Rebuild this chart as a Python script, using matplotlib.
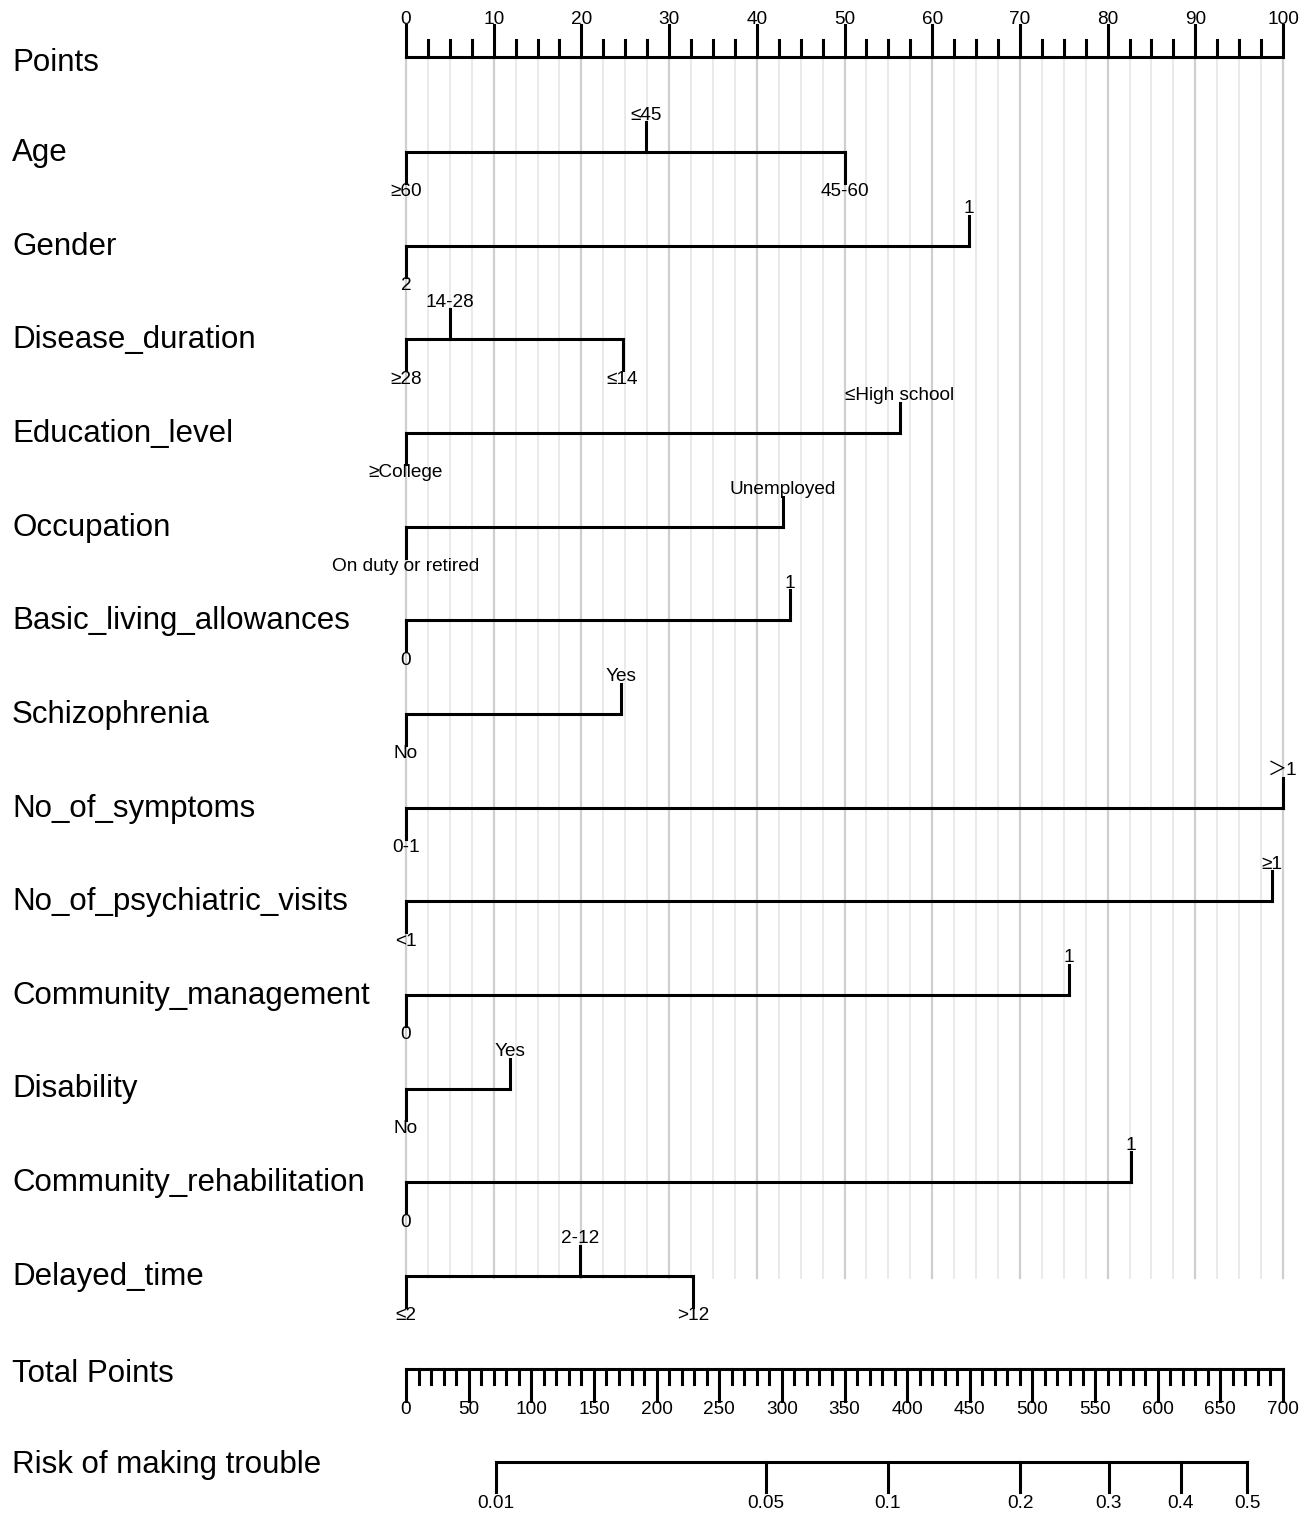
import matplotlib
matplotlib.use('Agg')
import matplotlib.pyplot as plt
import matplotlib.transforms as mtransforms
import numpy as np

plt.rcParams['font.family'] = ['Liberation Sans', 'Noto Sans CJK SC', 'DejaVu Sans']

# ---------------- data ----------------
variable_names = ['Age', 'Gender', 'Disease_duration', 'Education_level', 'Occupation',
                  'Basic_living_allowances', 'Schizophrenia', 'No_of_symptoms',
                  'No_of_psychiatric_visits', 'Community_management', 'Disability',
                  'Community_rehabilitation', 'Delayed_time']

age_levels = ['≥60', '≤45', '45-60']
age_points = [0, 27.4, 50.0]
gender_levels = ['2', '1']
gender_points = [0, 64.2]
duration_levels = ['≥28', '14-28', '≤14']
duration_points = [0, 5.0, 24.7]
education_levels = ['≥College', '≤High school']
education_points = [0, 56.3]
occupation_levels = ['On duty or retired', 'Unemployed']
occupation_points = [0, 43.0]
allowance_levels = ['0', '1']
allowance_points = [0, 43.8]
schizo_levels = ['No', 'Yes']
schizo_points = [0, 24.5]
symptom_levels = ['0-1', '＞1']
symptom_points = [0, 100.0]
visit_levels = ['<1', '≥1']
visit_points = [0, 98.7]
management_levels = ['0', '1']
management_points = [0, 75.6]
disability_levels = ['No', 'Yes']
disability_points = [0, 11.9]
rehab_levels = ['0', '1']
rehab_points = [0, 82.7]
delay_levels = ['≤2', '2-12', '>12']
delay_points = [0, 19.8, 32.7]

points_ticks = np.arange(0, 101, 10)
points_minor = np.arange(0, 100.1, 2.5)
total_ticks = np.arange(0, 701, 50)
total_minor = np.arange(0, 701, 10)
risk_ticks = [0.01, 0.05, 0.1, 0.2, 0.3, 0.4, 0.5]
risk_tick_labels = ['0.01', '0.05', '0.1', '0.2', '0.3', '0.4', '0.5']
# total points where linear predictor = 0, and total points per logit unit
lp_zero_total = 671.3
total_per_logit = 130.5
total_max = 700

variables = list(zip(variable_names,
                     [age_levels, gender_levels, duration_levels, education_levels,
                      occupation_levels, allowance_levels, schizo_levels, symptom_levels,
                      visit_levels, management_levels, disability_levels, rehab_levels,
                      delay_levels],
                     [age_points, gender_points, duration_points, education_points,
                      occupation_points, allowance_points, schizo_points, symptom_points,
                      visit_points, management_points, disability_points, rehab_points,
                      delay_points]))

# ---------------- layout ----------------
W, H, DPI = 1313, 1514, 100
X0_PX, X100_PX = 406, 1283
ppt = (X100_PX - X0_PX) / 100.0
XMIN = -X0_PX / ppt
XMAX = XMIN + W / ppt

fig = plt.figure(figsize=(W / DPI, H / DPI), dpi=DPI)
ax = fig.add_axes([0, 0, 1, 1])
ax.set_xlim(XMIN, XMAX)
ax.set_ylim(H, 0)
ax.axis('off')

label_tr = mtransforms.blended_transform_factory(fig.transFigure, ax.transData)
LABEL_X = 12 / W
BIG = 22.5
SMALL = 13.7
LW = 2.2

y_points = 57
row_y0, row_dy = 152, 93.65
y_total = 1369
y_risk = 1462

# grid lines
for v in points_minor:
    major = abs(v % 10) < 1e-9
    ax.plot([v, v], [y_points, 1278], color='#cfcfcf' if major else '#e6e6e6',
            lw=1.6 if major else 1.2, zorder=0)

# Points axis
ax.text(LABEL_X, y_points + 6, 'Points', transform=label_tr, fontsize=BIG, va='center', ha='left')
ax.plot([0, 100], [y_points, y_points], color='black', lw=LW, solid_capstyle='butt')
for v in points_minor:
    major = abs(v % 10) < 1e-9
    ax.plot([v, v], [y_points, y_points - (32 if major else 17)], color='black', lw=LW)
for v in points_ticks:
    ax.text(v, 20, f'{v:g}', fontsize=SMALL, ha='center', va='center')

# variable rows
for i, (name, levels, pts) in enumerate(variables):
    y = row_y0 + i * row_dy
    ax.text(LABEL_X, y + 1, name, transform=label_tr, fontsize=BIG, va='center', ha='left')
    ax.plot([min(pts), max(pts)], [y, y], color='black', lw=LW, solid_capstyle='projecting')
    order = np.argsort(pts)
    for k, idx in enumerate(order):
        p = pts[idx]
        up = (k % 2 == 1)
        if up:
            ax.plot([p, p], [y, y - 30], color='black', lw=LW)
            ax.text(p, y - 37, levels[idx], fontsize=SMALL, ha='center', va='center')
        else:
            ax.plot([p, p], [y, y + 31], color='black', lw=LW)
            ax.text(p, y + 40, levels[idx], fontsize=SMALL, ha='center', va='center')

# Total points axis
scale_tot = 100.0 / total_max
ax.text(LABEL_X, y_total + 5, 'Total Points', transform=label_tr, fontsize=BIG, va='center', ha='left')
ax.plot([0, total_max * scale_tot], [y_total, y_total], color='black', lw=LW)
for v in total_minor:
    major = v % 50 == 0
    ax.plot([v * scale_tot] * 2, [y_total, y_total + (32 if major else 15)], color='black', lw=LW)
for v in total_ticks:
    ax.text(v * scale_tot, y_total + 41, f'{v:g}', fontsize=SMALL, ha='center', va='center')

# Risk axis
def risk_to_x(p):
    p = np.asarray(p, dtype=float)
    lp = np.log(p / (1 - p))
    return (lp_zero_total + total_per_logit * lp) * scale_tot

ax.text(LABEL_X, y_risk + 3, 'Risk of making trouble', transform=label_tr, fontsize=BIG, va='center', ha='left')
rx = risk_to_x(risk_ticks)
ax.plot([rx.min(), rx.max()], [y_risk, y_risk], color='black', lw=LW)
for x, lab in zip(rx, risk_tick_labels):
    ax.plot([x, x], [y_risk, y_risk + 30], color='black', lw=LW)
    ax.text(x, y_risk + 41, lab, fontsize=SMALL, ha='center', va='center')

fig.savefig('out.png', dpi=DPI)
